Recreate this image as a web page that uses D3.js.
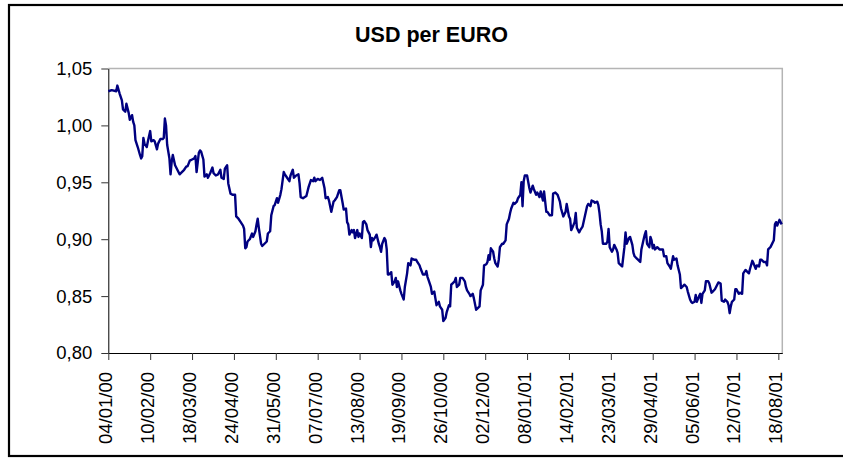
<!DOCTYPE html>
<html>
<head>
<meta charset="utf-8">
<script src="https://cdn.jsdelivr.net/npm/d3@7"></script>
<style>
  html, body { margin: 0; padding: 0; background: #fff; }
  svg { display: block; }
  text { font-family: "Liberation Sans", Arial, Helvetica, sans-serif; }
</style>
</head>
<body>
<svg id="chart" width="843" height="458"></svg>
<script>
const title = "USD per EURO";

const dates = [
"04/01/00","07/01/00","11/01/00","12/01/00","14/01/00","16/01/00","17/01/00","19/01/00","20/01/00","22/01/00",
"23/01/00","25/01/00","26/01/00","27/01/00","28/01/00","30/01/00","01/02/00","02/02/00","03/02/00","04/02/00",
"05/02/00","07/02/00","08/02/00","10/02/00","11/02/00","13/02/00","14/02/00","16/02/00","17/02/00","19/02/00",
"21/02/00","22/02/00","23/02/00","24/02/00","25/02/00","27/02/00","28/02/00","29/02/00","01/03/00","03/03/00",
"05/03/00","07/03/00","09/03/00","11/03/00","13/03/00","14/03/00","16/03/00","18/03/00","20/03/00","21/03/00",
"22/03/00","24/03/00","25/03/00","26/03/00","28/03/00","29/03/00","31/03/00","01/04/00","03/04/00","05/04/00",
"06/04/00","08/04/00","10/04/00","12/04/00","13/04/00","15/04/00","16/04/00","18/04/00","19/04/00","21/04/00",
"23/04/00","25/04/00","26/04/00","28/04/00","30/04/00","02/05/00","03/05/00","04/05/00","05/05/00","06/05/00",
"08/05/00","10/05/00","11/05/00","13/05/00","14/05/00","15/05/00","16/05/00","18/05/00","19/05/00","21/05/00",
"23/05/00","24/05/00","26/05/00","27/05/00","29/05/00","30/05/00","01/06/00","02/06/00","04/06/00","05/06/00",
"07/06/00","08/06/00","10/06/00","12/06/00","13/06/00","15/06/00","16/06/00","18/06/00","20/06/00","21/06/00",
"22/06/00","24/06/00","27/06/00","29/06/00","01/07/00","03/07/00","04/07/00","05/07/00","07/07/00","09/07/00",
"11/07/00","13/07/00","14/07/00","16/07/00","17/07/00","19/07/00","21/07/00","22/07/00","24/07/00","26/07/00",
"27/07/00","29/07/00","30/07/00","01/08/00","02/08/00","03/08/00","04/08/00","06/08/00","07/08/00","08/08/00",
"09/08/00","11/08/00","12/08/00","13/08/00","15/08/00","16/08/00","17/08/00","19/08/00","20/08/00","22/08/00",
"23/08/00","24/08/00","25/08/00","27/08/00","28/08/00","30/08/00","31/08/00","01/09/00","02/09/00","04/09/00",
"05/09/00","06/09/00","07/09/00","08/09/00","10/09/00","11/09/00","13/09/00","14/09/00","15/09/00","16/09/00",
"18/09/00","19/09/00","21/09/00","22/09/00","24/09/00","25/09/00","27/09/00","28/09/00","30/09/00","02/10/00",
"03/10/00","05/10/00","06/10/00","08/10/00","10/10/00","11/10/00","12/10/00","13/10/00","15/10/00","16/10/00",
"18/10/00","19/10/00","20/10/00","22/10/00","23/10/00","25/10/00","26/10/00","28/10/00","29/10/00","31/10/00",
"01/11/00","02/11/00","03/11/00","05/11/00","06/11/00","07/11/00","09/11/00","10/11/00","12/11/00","14/11/00",
"15/11/00","16/11/00","18/11/00","19/11/00","21/11/00","22/11/00","24/11/00","25/11/00","27/11/00","28/11/00",
"30/11/00","01/12/00","03/12/00","04/12/00","05/12/00","06/12/00","07/12/00","09/12/00","10/12/00","11/12/00",
"13/12/00","14/12/00","15/12/00","17/12/00","18/12/00","20/12/00","21/12/00","23/12/00","24/12/00","25/12/00",
"27/12/00","28/12/00","30/12/00","31/12/00","02/01/01","03/01/01","04/01/01","05/01/01","06/01/01","08/01/01",
"10/01/01","11/01/01","13/01/01","14/01/01","16/01/01","17/01/01","19/01/01","20/01/01","22/01/01","23/01/01",
"25/01/01","26/01/01","28/01/01","30/01/01","31/01/01","02/02/01","04/02/01","06/02/01","07/02/01","09/02/01",
"11/02/01","12/02/01","14/02/01","15/02/01","16/02/01","17/02/01","19/02/01","20/02/01","21/02/01","23/02/01",
"24/02/01","26/02/01","28/02/01","02/03/01","03/03/01","05/03/01","06/03/01","08/03/01","09/03/01","11/03/01",
"12/03/01","13/03/01","14/03/01","15/03/01","16/03/01","19/03/01","20/03/01","21/03/01","22/03/01","24/03/01",
"25/03/01","26/03/01","28/03/01","29/03/01","30/03/01","01/04/01","02/04/01","04/04/01","05/04/01","06/04/01",
"08/04/01","09/04/01","11/04/01","12/04/01","13/04/01","15/04/01","16/04/01","18/04/01","19/04/01","21/04/01",
"22/04/01","23/04/01","24/04/01","26/04/01","27/04/01","28/04/01","29/04/01","30/04/01","01/05/01","03/05/01",
"05/05/01","06/05/01","08/05/01","09/05/01","11/05/01","12/05/01","14/05/01","15/05/01","17/05/01","18/05/01",
"20/05/01","21/05/01","23/05/01","24/05/01","26/05/01","27/05/01","29/05/01","30/05/01","01/06/01","02/06/01",
"03/06/01","05/06/01","06/06/01","07/06/01","09/06/01","10/06/01","11/06/01","12/06/01","14/06/01","15/06/01",
"17/06/01","18/06/01","20/06/01","21/06/01","23/06/01","24/06/01","26/06/01","28/06/01","29/06/01","01/07/01",
"02/07/01","04/07/01","05/07/01","06/07/01","07/07/01","08/07/01","10/07/01","11/07/01","12/07/01","14/07/01",
"15/07/01","17/07/01","18/07/01","20/07/01","21/07/01","23/07/01","24/07/01","26/07/01","27/07/01","29/07/01",
"30/07/01","01/08/01","02/08/01","03/08/01","05/08/01","07/08/01","08/08/01","09/08/01","11/08/01","12/08/01",
"14/08/01","15/08/01","16/08/01","17/08/01","19/08/01","20/08/01","21/08/01"
];

const usdPerEuro = [
1.030,1.031,1.030,1.035,1.028,1.022,1.014,1.012,1.019,1.011,
1.005,1.009,1.003,1.000,0.987,0.981,0.974,0.971,0.973,0.989,
0.984,0.981,0.986,0.995,0.986,0.987,0.986,0.979,0.984,0.988,
0.988,0.989,1.006,1.000,0.983,0.971,0.957,0.968,0.974,0.965,
0.961,0.957,0.959,0.961,0.964,0.964,0.969,0.970,0.971,0.973,
0.959,0.976,0.978,0.977,0.970,0.955,0.957,0.954,0.958,0.963,
0.958,0.956,0.957,0.961,0.954,0.953,0.962,0.965,0.949,0.940,
0.939,0.939,0.920,0.918,0.915,0.912,0.909,0.892,0.893,0.898,
0.900,0.905,0.902,0.907,0.913,0.918,0.910,0.896,0.894,0.896,
0.898,0.905,0.907,0.921,0.929,0.930,0.936,0.932,0.939,0.944,
0.959,0.957,0.954,0.951,0.956,0.961,0.954,0.956,0.957,0.949,
0.937,0.936,0.938,0.946,0.952,0.951,0.954,0.951,0.953,0.952,
0.954,0.945,0.936,0.937,0.934,0.924,0.933,0.934,0.937,0.943,
0.943,0.932,0.926,0.927,0.915,0.913,0.904,0.908,0.906,0.908,
0.901,0.908,0.902,0.905,0.901,0.915,0.916,0.913,0.908,0.904,
0.893,0.901,0.899,0.902,0.904,0.896,0.893,0.889,0.896,0.901,
0.899,0.891,0.869,0.869,0.871,0.860,0.863,0.866,0.858,0.863,
0.855,0.852,0.847,0.858,0.870,0.879,0.877,0.883,0.882,0.882,
0.880,0.877,0.874,0.869,0.869,0.872,0.867,0.864,0.858,0.852,
0.854,0.848,0.842,0.845,0.841,0.838,0.828,0.831,0.836,0.842,
0.841,0.860,0.861,0.863,0.866,0.858,0.860,0.866,0.866,0.863,
0.858,0.855,0.852,0.850,0.852,0.848,0.838,0.839,0.841,0.855,
0.860,0.877,0.878,0.880,0.886,0.882,0.892,0.889,0.883,0.879,
0.876,0.882,0.893,0.896,0.896,0.899,0.913,0.918,0.923,0.927,
0.932,0.931,0.933,0.936,0.939,0.950,0.929,0.951,0.956,0.956,
0.945,0.941,0.947,0.944,0.939,0.941,0.937,0.942,0.934,0.942,
0.924,0.924,0.921,0.921,0.940,0.941,0.939,0.933,0.927,0.920,
0.924,0.931,0.920,0.918,0.908,0.910,0.915,0.923,0.910,0.906,
0.908,0.911,0.920,0.929,0.931,0.929,0.934,0.933,0.932,0.933,
0.930,0.923,0.913,0.907,0.896,0.896,0.898,0.909,0.893,0.889,
0.891,0.895,0.891,0.888,0.879,0.877,0.876,0.893,0.906,0.896,
0.901,0.902,0.895,0.888,0.885,0.883,0.882,0.880,0.891,0.900,
0.904,0.907,0.896,0.893,0.902,0.899,0.892,0.895,0.891,0.893,
0.891,0.891,0.891,0.885,0.885,0.879,0.876,0.874,0.885,0.882,
0.883,0.877,0.869,0.857,0.859,0.860,0.858,0.854,0.847,0.845,
0.844,0.845,0.851,0.845,0.850,0.852,0.844,0.852,0.855,0.863,
0.863,0.861,0.853,0.854,0.856,0.858,0.862,0.861,0.846,0.845,
0.847,0.845,0.842,0.835,0.841,0.845,0.847,0.856,0.856,0.852,
0.853,0.852,0.870,0.873,0.872,0.870,0.874,0.881,0.879,0.874,
0.877,0.876,0.882,0.882,0.880,0.880,0.877,0.891,0.893,0.895,
0.899,0.913,0.915,0.912,0.917,0.915,0.913
];

const xTickLabels = ["04/01/00","10/02/00","18/03/00","24/04/00","31/05/00","07/07/00","13/08/00","19/09/00",
  "26/10/00","02/12/00","08/01/01","14/02/01","23/03/01","29/04/01","05/06/01","12/07/01","18/08/01"];
const yTickValues = [0.80, 0.85, 0.90, 0.95, 1.00, 1.05];
const domainStart = "04/01/00";
const domainEnd = "21/08/01";

const parse = d3.utcParse("%d/%m/%y");
const fmtDate = d3.utcFormat("%d/%m/%y");
const locale = d3.formatLocale({decimal: ",", thousands: ".", grouping: [3], currency: ["", "€"]});
const fmtY = locale.format(".2f");

const data = dates.map((d, i) => ({date: parse(d), value: usdPerEuro[i]}));

const svg = d3.select("#chart");
const plotL = 108.3, plotR = 782.3, plotT = 68.5, plotB = 353;

// outer chart frame
svg.append("rect")
  .attr("x", 9).attr("y", 5).attr("width", 860).attr("height", 451)
  .attr("fill", "#fff").attr("stroke", "#000").attr("stroke-width", 2.2);

const x = d3.scaleUtc()
  .domain([parse(domainStart), d3.utcHour.offset(parse(domainEnd), 12)])
  .range([plotL, plotR]);
const y = d3.scaleLinear().domain([0.80, 1.05]).range([plotB, plotT]);

// plot area border (top & right, grey)
svg.append("path")
  .attr("d", `M${plotL},${plotT}H${plotR}V${plotB}`)
  .attr("fill", "none").attr("stroke", "#b4b4b4").attr("stroke-width", 1.5);

// title
svg.append("text")
  .attr("x", 431.5).attr("y", 42)
  .attr("text-anchor", "middle")
  .attr("font-size", "21.5px").attr("font-weight", "bold")
  .text(title);

// y axis
const yAxis = svg.append("g")
  .attr("transform", `translate(${plotL},0)`)
  .call(d3.axisLeft(y).tickValues(yTickValues).tickFormat(fmtY).tickSize(7).tickSizeOuter(0).tickPadding(9));
yAxis.select(".domain").attr("stroke", "#000");
yAxis.selectAll(".tick line").attr("stroke", "#333");
yAxis.selectAll("text").attr("font-size", "18.5px").attr("fill", "#000")
  .style("font-family", '"Liberation Sans", Arial, sans-serif');

// x axis
const xAxis = svg.append("g")
  .attr("transform", `translate(0,${plotB})`)
  .call(d3.axisBottom(x).tickValues(xTickLabels.map(parse)).tickFormat(fmtDate).tickSize(7).tickSizeOuter(0));
xAxis.select(".domain").attr("stroke", "#000");
xAxis.selectAll(".tick line").attr("stroke", "#333");
xAxis.selectAll("text")
  .attr("font-size", "18.5px").attr("fill", "#000")
  .style("font-family", '"Liberation Sans", Arial, sans-serif')
  .attr("transform", "rotate(-90)")
  .attr("text-anchor", "end")
  .attr("x", -19).attr("y", 3.5).attr("dy", 0);

// line
const line = d3.line().x(d => x(d.date)).y(d => y(d.value));
svg.append("path")
  .datum(data)
  .attr("d", line)
  .attr("fill", "none")
  .attr("stroke", "#000080")
  .attr("stroke-width", 2.4)
  .attr("stroke-linejoin", "round");
</script>
</body>
</html>
